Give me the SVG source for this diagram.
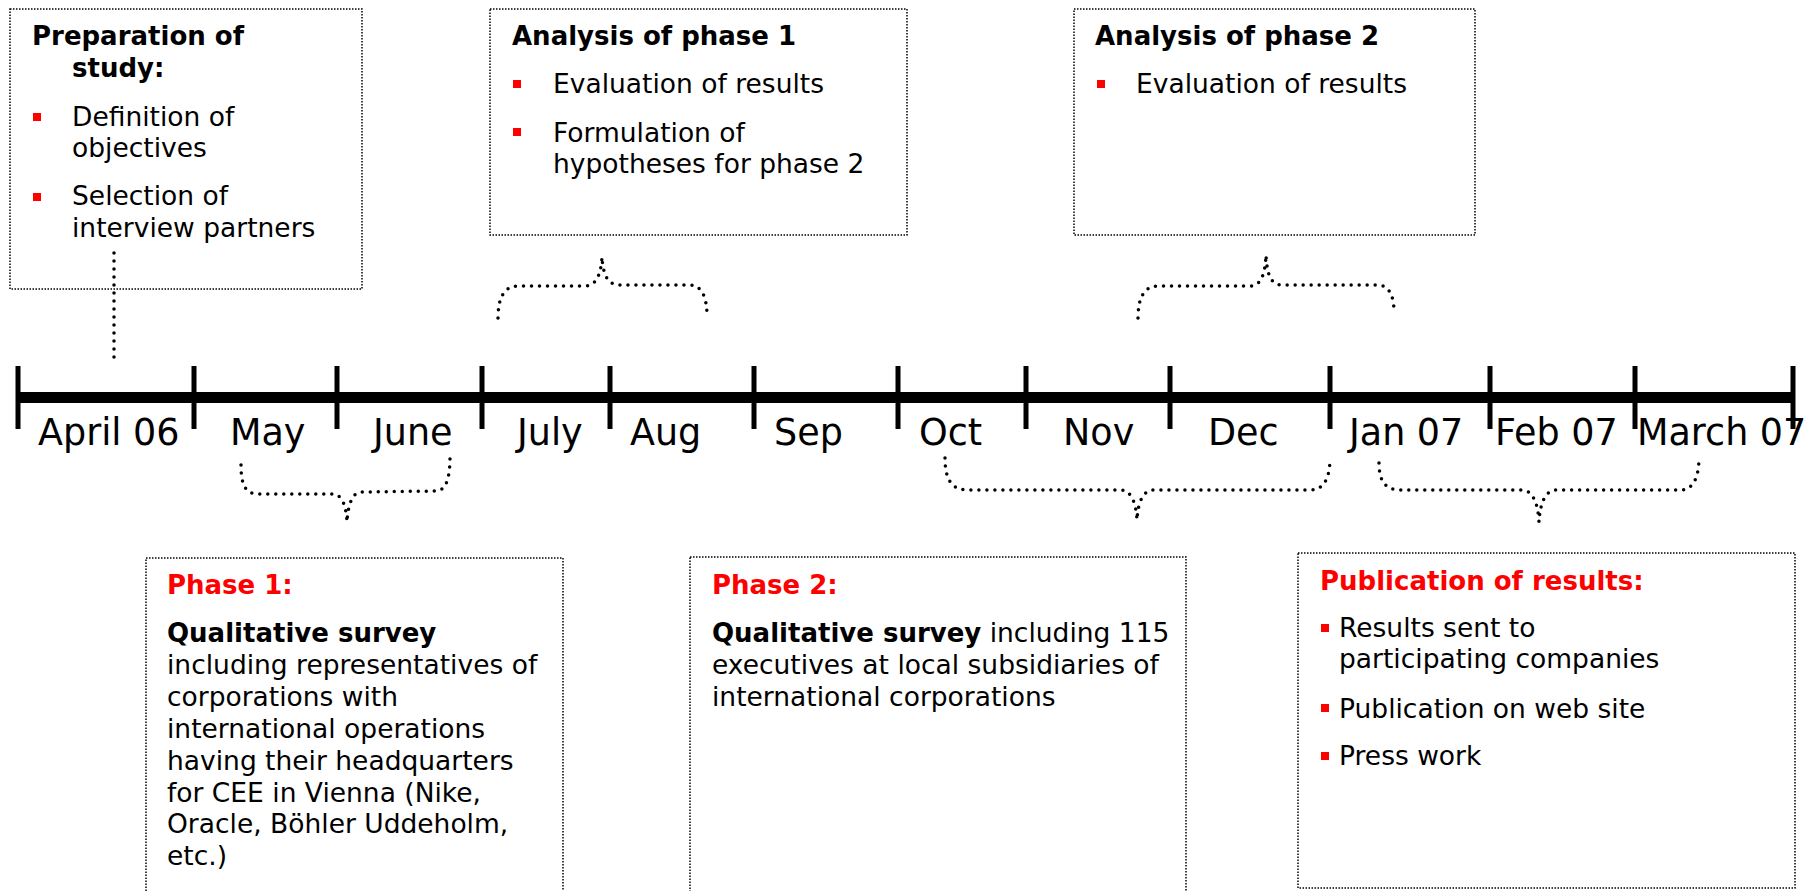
<svg xmlns="http://www.w3.org/2000/svg" width="1811" height="891" viewBox="0 0 1811 891">
<style>
.box{fill:#fff;stroke:#000;stroke-width:1.5;stroke-dasharray:1.5 1.5}
.t{font-family:"DejaVu Sans","Verdana",sans-serif;font-size:26.5px;fill:#000}
.b{font-family:"DejaVu Sans","Verdana",sans-serif;font-size:26px;font-weight:bold;fill:#000}
.red{fill:#ff0000}
.bul{fill:#ff0000}
.m{font-family:"DejaVu Sans","Verdana",sans-serif;font-size:36.5px;fill:#000}
.dot{fill:none;stroke:#000;stroke-width:3.5;stroke-linecap:round;stroke-dasharray:0 8}
.tick{stroke:#000;stroke-width:5}
</style>
<rect width="1811" height="891" fill="#fff"/>

<g id="prep">
<rect class="box" x="10" y="9" width="352" height="280"/>
<text class="b" x="32" y="45">Preparation of</text>
<text class="b" x="72" y="77">study:</text>
<rect class="bul" x="33" y="113" width="8" height="8"/>
<text class="t" x="72" y="126">Definition of</text>
<text class="t" x="72" y="157">objectives</text>
<rect class="bul" x="33" y="193" width="8" height="8"/>
<text class="t" x="72" y="205">Selection of</text>
<text class="t" x="72" y="237">interview partners</text>
</g>

<g id="analysis1">
<rect class="box" x="490" y="9" width="417" height="226"/>
<text class="b" x="512" y="45">Analysis of phase 1</text>
<rect class="bul" x="513" y="80" width="8" height="8"/>
<text class="t" x="553" y="93">Evaluation of results</text>
<rect class="bul" x="513" y="128" width="8" height="8"/>
<text class="t" x="553" y="142">Formulation of</text>
<text class="t" x="553" y="173">hypotheses for phase 2</text>
</g>

<g id="analysis2">
<rect class="box" x="1074" y="9" width="401" height="226"/>
<text class="b" x="1095" y="45">Analysis of phase 2</text>
<rect class="bul" x="1097" y="80" width="8" height="8"/>
<text class="t" x="1136" y="93">Evaluation of results</text>
</g>

<g id="phase1">
<rect class="box" x="146" y="558" width="417" height="360"/>
<text class="b red" x="167" y="594">Phase 1:</text>
<text class="b" x="167" y="642">Qualitative survey</text>
<text class="t" x="167" y="674">including representatives of</text>
<text class="t" x="167" y="706">corporations with</text>
<text class="t" x="167" y="738">international operations</text>
<text class="t" x="167" y="770">having their headquarters</text>
<text class="t" x="167" y="802">for CEE in Vienna (Nike,</text>
<text class="t" x="167" y="833">Oracle, Böhler Uddeholm,</text>
<text class="t" x="167" y="865">etc.)</text>
</g>

<g id="phase2">
<rect class="box" x="690" y="557" width="496" height="360"/>
<text class="b red" x="712" y="594">Phase 2:</text>
<text class="t" x="712" y="642"><tspan font-weight="bold" font-size="26">Qualitative survey</tspan> including 115</text>
<text class="t" x="712" y="674">executives at local subsidiaries of</text>
<text class="t" x="712" y="706">international corporations</text>
</g>

<g id="publication">
<rect class="box" x="1298" y="553" width="497" height="335"/>
<text class="b red" x="1320" y="590">Publication of results:</text>
<rect class="bul" x="1321" y="624" width="8" height="8"/>
<text class="t" x="1339" y="637">Results sent to</text>
<text class="t" x="1339" y="668">participating companies</text>
<rect class="bul" x="1321" y="704" width="8" height="8"/>
<text class="t" x="1339" y="718">Publication on web site</text>
<rect class="bul" x="1321" y="752" width="8" height="8"/>
<text class="t" x="1339" y="765">Press work</text>
</g>

<g id="timeline">
<rect x="18" y="392" width="1775" height="11" fill="#000"/>
<line class="tick" x1="18" y1="366" x2="18" y2="429"/>
<line class="tick" x1="194" y1="366" x2="194" y2="429"/>
<line class="tick" x1="337" y1="366" x2="337" y2="429"/>
<line class="tick" x1="482" y1="366" x2="482" y2="429"/>
<line class="tick" x1="610" y1="366" x2="610" y2="429"/>
<line class="tick" x1="754" y1="366" x2="754" y2="429"/>
<line class="tick" x1="898" y1="366" x2="898" y2="429"/>
<line class="tick" x1="1026" y1="366" x2="1026" y2="429"/>
<line class="tick" x1="1170" y1="366" x2="1170" y2="429"/>
<line class="tick" x1="1330" y1="366" x2="1330" y2="429"/>
<line class="tick" x1="1490" y1="366" x2="1490" y2="429"/>
<line class="tick" x1="1635" y1="366" x2="1635" y2="429"/>
<line class="tick" x1="1793" y1="366" x2="1793" y2="429"/>
<text class="m" x="38" y="445">April 06</text>
<text class="m" x="230" y="445">May</text>
<text class="m" x="373" y="445">June</text>
<text class="m" x="517" y="445">July</text>
<text class="m" x="630" y="445">Aug</text>
<text class="m" x="774" y="445">Sep</text>
<text class="m" x="919" y="445">Oct</text>
<text class="m" x="1063" y="445">Nov</text>
<text class="m" x="1208" y="445">Dec</text>
<text class="m" x="1349" y="445">Jan 07</text>
<text class="m" x="1495" y="445">Feb 07</text>
<text class="m" x="1637" y="445">March 07</text>
</g>

<g id="connectors">
<path class="dot" d="M114,253 L114,358"/>
<path class="dot" d="M498,318 C498,300 503,286 518,286 L585,286 C596,286 601,275 602,257 C603,275 608,285 619,285 L690,285 C702,285 707,298 707,316"/>
<path class="dot" d="M1138,318 C1138,300 1143,286 1158,286 L1250,286 C1261,286 1265,275 1266,255 C1267,275 1271,285 1282,285 L1378,285 C1390,285 1394,298 1394,312"/>
<path class="dot" d="M241,465 C241,484 245,494 258,494 L332,494 C342,494 346,505 347,522 C348,505 352,492 362,492 L436,491 C446,491 450,478 450,457"/>
<path class="dot" d="M945,458 C945,480 952,490 968,490 L1120,490 C1131,490 1136,502 1137,520 C1138,502 1143,490 1154,490 L1310,490 C1324,490 1330,478 1330,458"/>
<path class="dot" d="M1379,463 C1379,482 1386,490 1400,490 L1522,490 C1533,490 1538,504 1539,522 C1540,504 1545,490 1556,490 L1680,490 C1693,490 1699,478 1699,457"/>
</g>
</svg>
